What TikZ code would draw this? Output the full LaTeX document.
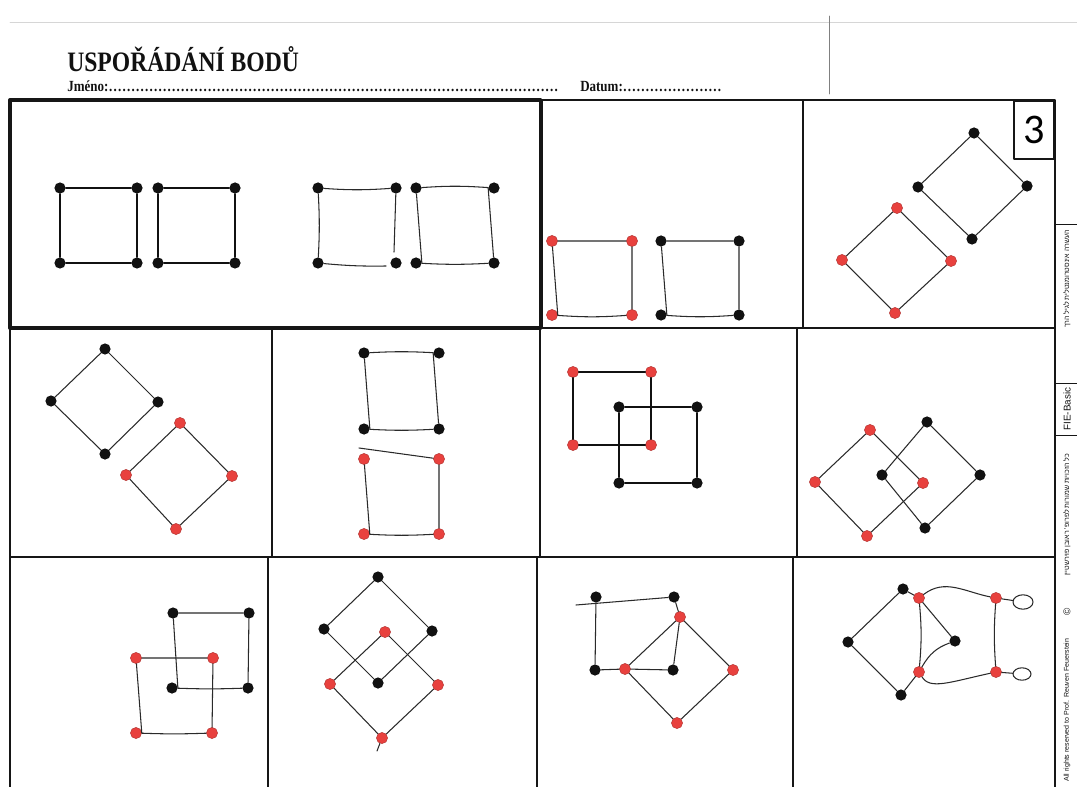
\documentclass[tikz,border=0pt]{standalone}
\usepackage{fontspec}
\setmainfont{Liberation Serif}
\setsansfont{Liberation Sans}
\newfontfamily\headfont{Liberation Serif}[FakeStretch=0.84]
\newfontfamily\numfont{Carlito}
\newfontfamily\hebfont[Script=Hebrew]{Liberation Sans}
\TeXXeTstate=1
\usetikzlibrary{positioning,shapes.geometric}
\definecolor{ink}{HTML}{111111}
\definecolor{pencil}{HTML}{2A2A2A}
\definecolor{dotred}{HTML}{E8413E}
\definecolor{rule}{HTML}{161616}
\definecolor{faint}{HTML}{D6D6D6}
\newcommand\dotrun[1]{\hbox to #1{\leaders\hbox to 3.2pt{\hss.\hss}\hfill}}
\tikzset{
  every picture/.style={line cap=round, line join=round},
  bdot/.style={circle, fill=ink, draw=none, inner sep=0pt, minimum size=2.8mm},
  rdot/.style={circle, fill=dotred, draw=dotred!75!black, line width=0.3pt, inner sep=0pt, minimum size=2.8mm},
  printed/.style={draw=ink, line width=1.1pt},
  pen/.style={draw=pencil, line width=0.75pt},
  cellline/.style={draw=rule, line width=1.1pt},
  heavy/.style={draw=rule, line width=2.4pt},
  loopy/.style={ellipse, draw=pencil, line width=0.75pt, inner sep=0pt},
  head/.style={anchor=base west, inner sep=0pt, text=ink},
  margintxt/.style={font=\sffamily\fontsize{5}{6}\selectfont, rotate=90, inner sep=0pt, text=ink},
}

\begin{document}
\begin{tikzpicture}[x=0.025cm, y=-0.025cm]
  \useasboundingbox (0,0) rectangle (1077,787);
  % ---------------- header ----------------
  \draw[faint, line width=0.4pt] (10,22) -- (1077,22);
  \draw[draw=gray, line width=0.6pt] (829,16) -- (829,94);
  \node[head, font=\headfont\bfseries\fontsize{20}{22}\selectfont] (title) at (67,72) {USPOŘÁDÁNÍ BODŮ};
  \node[head, font=\headfont\bfseries\fontsize{11}{12}\selectfont] (name) at (67,92) {Jméno:\dotrun{11.25cm}};
  \node[head, font=\headfont\bfseries\fontsize{11}{12}\selectfont] (date) at (580,92) {Datum:\dotrun{2.55cm}};

  % ---------------- grid ----------------
  \draw[cellline] (10,100) -- (1055,100) -- (1055,787);
  \draw[cellline] (10,100) -- (10,787);
  \draw[cellline] (541,328) -- (1055,328);
  \draw[cellline] (10,557) -- (1055,557);
  \draw[cellline] (803,100) -- (803,328);
  \foreach \x in {272,540,797}{\draw[cellline] (\x,328) -- (\x,557);}
  \foreach \x in {268,537,793}{\draw[cellline] (\x,557) -- (\x,787);}
  \draw[heavy] (10,100) rectangle (541,328);
  \node[draw=rule, line width=1.1pt, anchor=north east, minimum width=1cm, minimum height=1.45cm,
    inner sep=0pt, font=\numfont\fontsize{30}{30}\selectfont] (sheet) at (1055,100) {3};

  % ---------------- margin ----------------
  \foreach \y in {224,383,435}{\draw[cellline, line width=0.7pt] (1055,\y) -- (1077,\y);}
  \node[margintxt] (heb1) at (1067,279) {\hebfont\beginR העשרה אינסטרומנטלית לגיל הרך\endR};
  \node[margintxt, font=\sffamily\fontsize{7}{8}\selectfont] (fie) at (1067,409) {FIE-Basic};
  \node[margintxt] (heb2) at (1067,515) {\hebfont\beginR כל הזכויות שמורות לפרופ' ראובן פוירשטיין\endR};
  \node[margintxt, font=\sffamily\fontsize{7}{8}\selectfont] (copy) at (1067,612) {©};
  \node[margintxt] (rights) at (1067,710) {All rights reserved to Prof. Reuven Feuerstein};

  % ---------------- row 1: model and first tasks ----------------
  \foreach \s/\x in {0/60,1/158}{
    \node[bdot] (sq\s tl) at (\x,188) {};
    \node[bdot] (sq\s tr) at (\x+77,188) {};
    \node[bdot] (sq\s bl) at (\x,263) {};
    \node[bdot] (sq\s br) at (\x+77,263) {};
    \draw[printed] (sq\s tl) -- (sq\s tr) -- (sq\s br) -- (sq\s bl) -- (sq\s tl);}
  \foreach \n/\x/\y in {hAtl/318/188, hAtr/396/188, hAbl/318/263, hAbr/396/263,
      hBtl/416/188, hBtr/494/188, hBbl/416/263, hBbr/494/263}
    \node[bdot] (\n) at (\x,\y) {};
  \coordinate (hAend1) at (394,252);
  \coordinate (hAend2) at (386,266);
  \draw[pen] (hAtl) to[bend right=4] (hAtr);
  \draw[pen] (hAtr) -- (hAend1);
  \draw[pen] (hAtl) to[bend left=3] (hAbl);
  \draw[pen] (hAbl) to[bend right=3] (hAend2);
  \draw[pen] (hBtl) to[bend left=4] (hBtr) -- (hBbr) to[bend left=3] (hBbl) -- (hBtl);

  \foreach \n/\x/\y in {rBtl/552/241, rBtr/632/241, rBbl/552/315, rBbr/632/315}
    \node[rdot] (\n) at (\x,\y) {};
  \foreach \n/\x/\y in {kBtl/661/241, kBtr/739/241, kBbl/661/315, kBbr/739/315}
    \node[bdot] (\n) at (\x,\y) {};
  \foreach \g in {rB,kB}{\draw[pen] (\g tl) -- (\g tr) -- (\g br) to[bend left=4] (\g bl) -- (\g tl);}

  \foreach \n/\x/\y in {kCt/974/133, kCl/918/187, kCr/1027/186, kCb/972/239}
    \node[bdot] (\n) at (\x,\y) {};
  \foreach \n/\x/\y in {rCt/897/208, rCl/842/260, rCr/951/261, rCb/895/313}
    \node[rdot] (\n) at (\x,\y) {};

  % ---------------- row 2 ----------------
  \foreach \n/\x/\y in {kDt/105/349, kDl/51/401, kDr/158/402, kDb/105/454}
    \node[bdot] (\n) at (\x,\y) {};
  \foreach \n/\x/\y in {rDt/180/423, rDl/126/475, rDr/232/476, rDb/176/529}
    \node[rdot] (\n) at (\x,\y) {};

  \foreach \n/\x/\y in {kEtl/364/353, kEtr/439/353, kEbl/364/429, kEbr/439/429}
    \node[bdot] (\n) at (\x,\y) {};
  \foreach \n/\x/\y in {rEtl/364/459, rEtr/439/459, rEbl/364/534, rEbr/439/534}
    \node[rdot] (\n) at (\x,\y) {};
  \coordinate (eStart) at (359,448);
  \draw[pen] (kEtl) to[bend left=3] (kEtr) -- (kEbr) to[bend left=3] (kEbl) -- (kEtl);
  \draw[pen] (eStart) -- (rEtr) -- (rEbr) to[bend left=3] (rEbl) -- (rEtl);

  \foreach \n/\x/\y in {rFtl/573/372, rFtr/651/372, rFbl/573/445, rFbr/651/445}
    \node[rdot] (\n) at (\x,\y) {};
  \foreach \n/\x/\y in {kFtl/619/407, kFtr/697/407, kFbl/619/483, kFbr/697/483}
    \node[bdot] (\n) at (\x,\y) {};
  \foreach \g in {rF,kF}{\draw[printed] (\g tl) -- (\g tr) -- (\g br) -- (\g bl) -- (\g tl);}

  \foreach \n/\x/\y in {rGt/870/430, rGl/815/482, rGr/923/483, rGb/867/536}
    \node[rdot] (\n) at (\x,\y) {};
  \foreach \n/\x/\y in {kGt/927/422, kGl/882/475, kGr/980/475, kGb/925/528}
    \node[bdot] (\n) at (\x,\y) {};

  % ---------------- row 3 ----------------
  \foreach \n/\x/\y in {kHtl/173/613, kHtr/249/613, kHbl/172/688, kHbr/248/688}
    \node[bdot] (\n) at (\x,\y) {};
  \foreach \n/\x/\y in {rHtl/136/658, rHtr/213/658, rHbl/136/733, rHbr/212/733}
    \node[rdot] (\n) at (\x,\y) {};
  \foreach \g in {kH,rH}{\draw[pen] (\g tl) -- (\g tr) -- (\g br) to[bend left=2] (\g bl) -- (\g tl);}

  \foreach \n/\x/\y in {kIt/378/577, kIl/324/629, kIr/432/631, kIb/378/683}
    \node[bdot] (\n) at (\x,\y) {};
  \foreach \n/\x/\y in {rIt/385/632, rIl/330/684, rIr/438/685, rIb/382/738}
    \node[rdot] (\n) at (\x,\y) {};
  \coordinate (iTail) at (377,751);
  \draw[pen] (rIb) -- (iTail);

  \foreach \g in {kC,rC,kD,rD,kG,rG,kI,rI}{\draw[pen] (\g t) -- (\g r) -- (\g b) -- (\g l) -- (\g t);}

  \foreach \n/\x/\y in {kJtl/596/597, kJtr/674/597, kJbl/595/670, kJbr/673/670}
    \node[bdot] (\n) at (\x,\y) {};
  \foreach \n/\x/\y in {rJt/680/617, rJl/625/669, rJr/733/670, rJb/677/723}
    \node[rdot] (\n) at (\x,\y) {};
  \coordinate (jStart) at (576,605);
  \draw[pen] (jStart) -- (kJtr) -- (rJt) -- (kJbr) -- (rJl) -- (kJbl) -- (kJtl);
  \draw[pen] (rJt) -- (rJl) -- (rJb) -- (rJr) -- (rJt);

  \foreach \n/\x/\y in {kKt/903/589, kKl/848/642, kKb/901/695, kKr/955/641}
    \node[bdot] (\n) at (\x,\y) {};
  \foreach \n/\x/\y in {rKtl/919/598, rKtr/996/598, rKbl/919/672, rKbr/996/672}
    \node[rdot] (\n) at (\x,\y) {};
  \node[loopy, minimum width=5mm, minimum height=3.6mm] (loopA) at (1023,602) {};
  \node[loopy, minimum width=4.5mm, minimum height=3.1mm] (loopB) at (1022,674) {};
  \draw[pen] (kKt) -- (kKl) -- (kKb) -- (rKbl);
  \draw[pen] (kKt) -- (rKtl) -- (kKr);
  \draw[pen] (rKbl) to[out=60,in=200] (kKr);
  \draw[pen] (rKtl) to[bend left=5] (rKbl);
  \draw[pen] (rKtl) .. controls (945,578) and (965,592) .. (rKtr);
  \draw[pen] (rKbl) .. controls (930,690) and (950,682) .. (rKbr);
  \draw[pen] (rKtr) to[bend right=4] (rKbr);
  \draw[pen] (rKtr) -- (loopA);
  \draw[pen] (rKbr) -- (loopB);
\end{tikzpicture}
\end{document}
